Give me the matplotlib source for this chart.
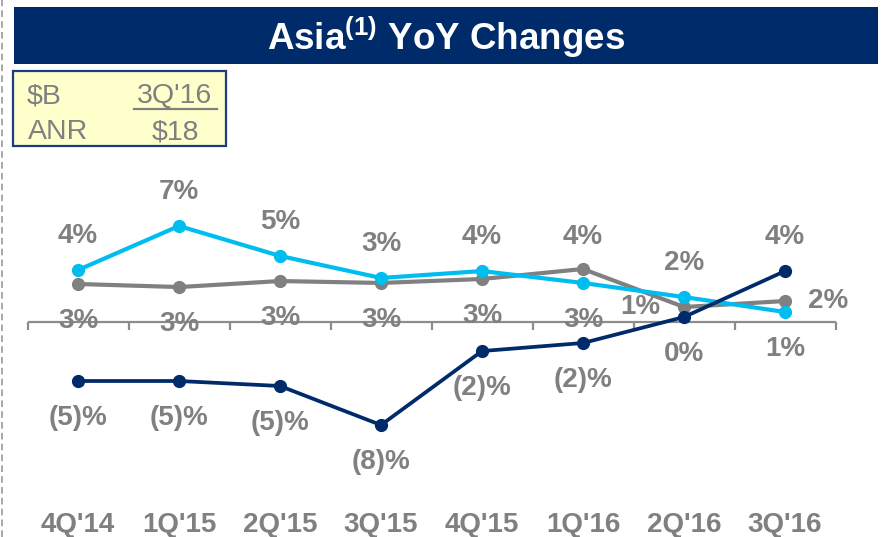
import numpy as np
import matplotlib
matplotlib.use("Agg")
import matplotlib.pyplot as plt
from matplotlib.patches import Rectangle
from matplotlib.lines import Line2D

W, H = 884, 537

quarters = ["4Q'14", "1Q'15", "2Q'15", "3Q'15", "4Q'15", "1Q'16", "2Q'16", "3Q'16"]

# plotted positions (%)
cyan_vals = [4.06, 7.5, 5.16, 3.44, 3.98, 3.05, 1.95, 0.78]
gray_vals = [2.97, 2.73, 3.2, 3.05, 3.36, 4.14, 1.17, 1.64]
navy_vals = [-4.61, -4.61, -5.0, -8.05, -2.27, -1.64, 0.39, 3.98]

# printed labels
cyan_labels = ["4%", "7%", "5%", "3%", "4%", "4%", "2%", "1%"]
gray_labels = ["3%", "3%", "3%", "3%", "3%", "3%", "1%", "2%"]
navy_labels = ["(5)%", "(5)%", "(5)%", "(8)%", "(2)%", "(2)%", "0%", "4%"]

CYAN = "#00BDF0"
GRAY = "#808080"
NAVY = "#002B6B"
TXT = "#808080"

plt.rcParams['font.family'] = ['Liberation Sans', 'DejaVu Sans']
plt.rcParams['mathtext.fontset'] = 'custom'
plt.rcParams['mathtext.rm'] = 'Liberation Sans:bold'
plt.rcParams['mathtext.it'] = 'Liberation Sans:bold'
plt.rcParams['mathtext.bf'] = 'Liberation Sans:bold'


def fx(px):
    return px / W


def fy(py):
    return 1 - py / H


fig = plt.figure(figsize=(W / 100, H / 100), dpi=100)
fig.patch.set_facecolor("white")

# left dashed border
fig.add_artist(Line2D([fx(1.5), fx(1.5)], [0, 1], color="#9a9a9a", lw=1.2,
                      dashes=(4, 2.5), transform=fig.transFigure))

# title bar
fig.add_artist(Rectangle((fx(14), fy(64)), fx(878) - fx(14), fy(7) - fy(64),
                         fc=NAVY, ec="none", transform=fig.transFigure))
fig.text(fx(446), fy(37), r"Asia$^{(1)}$ YoY Changes", color="white",
         fontsize=26.5, fontweight="bold", ha="center", va="center")

# small ANR box
fig.add_artist(Rectangle((fx(13), fy(146)), fx(226) - fx(13), fy(71) - fy(146),
                         fc="#FFFFCC", ec="#1F3C7C", lw=1.6, transform=fig.transFigure))
box_kw = dict(color=TXT, fontsize=20.5, va="baseline")
fig.text(fx(27), fy(103), "$B", ha="left", **box_kw)
fig.text(fx(175), fy(103), "3Q'16", ha="center", **box_kw)
fig.add_artist(Line2D([fx(134), fx(217)], [fy(108.5), fy(108.5)], color=TXT, lw=1.6,
                      transform=fig.transFigure))
fig.text(fx(28), fy(139), "ANR", ha="left", **box_kw)
fig.text(fx(175), fy(139), "$18", ha="center", **box_kw)

# chart
ax = fig.add_axes([0, 0, 1, 1])
ax.set_axis_off()
Z, K = 322, 12.8  # zero line pixel and pixels per %
ax.set_ylim((Z - H) / K, Z / K)
ax.set_xlim(-78 / 101, (W - 78) / 101)

x = np.arange(len(quarters))
n = len(quarters)
ax.hlines(0, -0.5, n - 0.5, color="#8c8c8c", lw=1.6, zorder=1)
ax.vlines(np.arange(n + 1) - 0.5, -8 / K, 0, color="#8c8c8c", lw=1.6, zorder=1)

ax.plot(x, gray_vals, color=GRAY, lw=3.0, marker="o", ms=8.5, zorder=3)
ax.plot(x, cyan_vals, color=CYAN, lw=3.0, marker="o", ms=8.5, zorder=4)
ax.plot(x, navy_vals, color=NAVY, lw=2.7, marker="o", ms=8.5, zorder=5)

lab_kw = dict(textcoords="offset pixels", ha="center", va="center",
              color=TXT, fontsize=20, fontweight="bold", zorder=6)

cyan_off = {5: (0, 46), 7: (0, -37)}
gray_off = {5: (0, -51), 6: (-44, 0), 7: (43, 0)}
navy_off = {7: (0, 34)}

for vals, labels, default, over in [(cyan_vals, cyan_labels, (0, 34), cyan_off),
                                     (gray_vals, gray_labels, (0, -37), gray_off),
                                     (navy_vals, navy_labels, (0, -37), navy_off)]:
    for i, (v, s) in enumerate(zip(vals, labels)):
        ax.annotate(s, (i, v), xytext=over.get(i, default), **lab_kw)

# category labels along the bottom
for i, q in enumerate(quarters):
    ax.text(i, fy(532), q, transform=ax.get_xaxis_transform(),
            ha="center", va="baseline", color=TXT, fontsize=20,
            fontweight="bold")

fig.savefig("out.png", dpi=100, facecolor="white")
